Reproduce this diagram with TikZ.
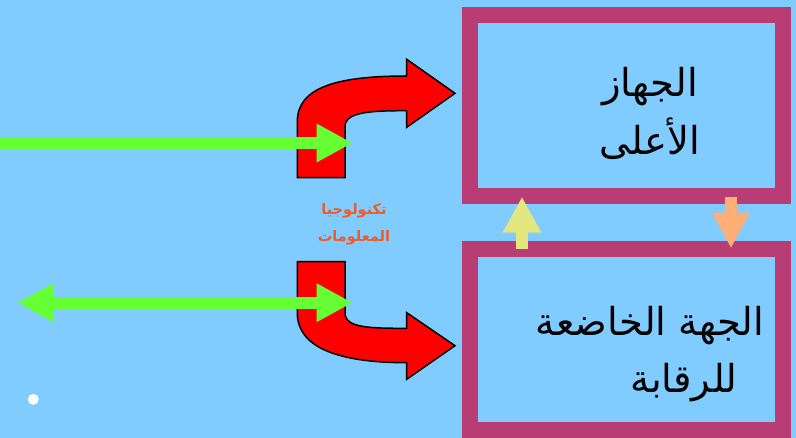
\documentclass[tikz,border=0pt]{standalone}
\usepackage{fontspec}
\usetikzlibrary{arrows.meta}
\newfontfamily\arabicfont[Script=Arabic]{DejaVu Sans}
\TeXXeTstate=1
\definecolor{bgblue}{HTML}{80CBFF}
\definecolor{frame}{HTML}{B83D75}
\definecolor{greenarr}{HTML}{66FF33}
\definecolor{yellowarr}{HTML}{E4E680}
\definecolor{orangearr}{HTML}{FFAE78}
\definecolor{labelred}{HTML}{F05A28}
\begin{document}
\begin{tikzpicture}[x=1pt,y=-1pt,
  framebox/.style={draw=frame,line width=16pt,fill=bgblue,rectangle,inner sep=0pt,
    minimum width=313.5pt,minimum height=181.5pt},
  boxtext/.style={font=\arabicfont\fontsize{38.5}{46}\selectfont,text=black,inner sep=0pt,anchor=base},
  labeltext/.style={font=\arabicfont\bfseries\fontsize{14.5}{18}\selectfont,text=labelred,inner sep=0pt,anchor=base},
  bentarrow/.style={fill=red,draw=black,line width=1.5pt,line join=miter},
  greenline/.style={draw=greenarr,line width=12pt},
  smallarrow/.style={line width=12pt}]
\useasboundingbox (0,0) rectangle (796,438);
\fill[bgblue] (0,0) rectangle (796,438);

% boxes
\node[framebox] (top) at (626.25,105.75) {};
\node[framebox] (bottom) at (626.25,339.75) {};

\node[boxtext] (toptxt1) at (650,97) {\beginR الجهاز\endR};
\node[boxtext] (toptxt2) at (650,155) {\beginR الأعلى\endR};
\node[boxtext] (bottxt1) at (650,336) {\beginR الجهة الخاضعة\endR};
\node[boxtext] (bottxt2) at (684,393) {\beginR للرقابة\endR};

% red bent arrows
\draw[bentarrow] (297.3,177.7) -- (297.3,121.7)
  .. controls (297.3,88) and (335,76) .. (406.7,76) -- (406.7,59.3) -- (455,93.3)
  -- (406.7,127.3) -- (406.7,110.7)
  .. controls (370,110.7) and (345,112) .. (345,126.7) -- (345,177.7) -- cycle;
\draw[bentarrow] (297.3,261.7) -- (297.3,313)
  .. controls (297.3,346) and (335,362.7) .. (406.7,362.7) -- (406.7,379.3) -- (455,345.7)
  -- (406.7,312.7) -- (406.7,328.3)
  .. controls (370,328.3) and (345,328) .. (345,313) -- (345,261.7) -- cycle;

% label
\node[labeltext] (lbl1) at (354,215) {\beginR تكنولوجيا\endR};
\node[labeltext] (lbl2) at (354,242) {\beginR المعلومات\endR};

% green arrows
\coordinate (g1s) at (0,143);
\coordinate (g1e) at (352.7,143);
\coordinate (g2s) at (17.3,302.7);
\coordinate (g2e) at (352.7,302.7);
\draw[greenline,-{Triangle[length=36pt,width=36pt]}] (g1s) -- (g1e);
\draw[greenline,{Triangle[length=36pt,width=36pt]}-{Triangle[length=36pt,width=36pt]}] (g2s) -- (g2e);

% small vertical arrows between boxes
\coordinate (ys) at (522,249);
\coordinate (ye) at (522,196.7);
\coordinate (os) at (731,196.7);
\coordinate (oe) at (731,248.3);
\draw[smallarrow,draw=yellowarr,-{Triangle[length=36pt,width=36pt,fill=yellowarr]}] (ys) -- (ye);
\draw[smallarrow,draw=orangearr,-{Triangle[length=35.6pt,width=35pt,fill=orangearr]}] (os) -- (oe);

% white dot
\fill[white] (33.3,399.3) circle (5.5);
\end{tikzpicture}
\end{document}
